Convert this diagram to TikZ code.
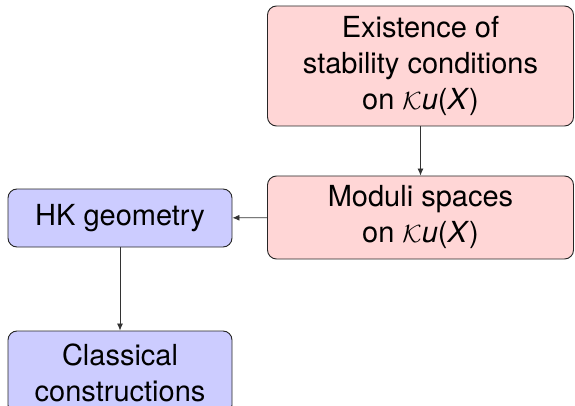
\documentclass[tikz,border=0pt]{standalone}
\usepackage{fontspec}
\setmainfont{TeX Gyre Heros}
\usetikzlibrary{arrows.meta}
\newcommand\KuX{$\mathcal{K}$\textit{u}(\textit{X})}
\begin{document}
\begin{tikzpicture}[x=1pt,y=-1pt,
  box/.style={draw=black!85, line width=0.9pt, rounded corners=9pt, align=center, inner sep=0pt, font=\fontsize{29}{36}\selectfont},
  pinkbox/.style={box, fill=red!16},
  bluebox/.style={box, fill=blue!20},
  conn/.style={draw=black!80, line width=0.8pt, -{Latex[length=7pt,width=6pt]}}]
\useasboundingbox (0,0) rectangle (575,406);
\clip (0,0) rectangle (575,406);
\node[pinkbox, minimum width=306pt, minimum height=120pt] (exist) at (420.5,66) {Existence of\\stability conditions\\on \KuX};
\node[pinkbox, minimum width=306pt, minimum height=83pt] (moduli) at (420.5,217.5) {Moduli spaces\\on \KuX};
\node[bluebox, minimum width=224pt, minimum height=58pt] (hk) at (120,218) {HK geometry};
\node[bluebox, minimum width=224pt, minimum height=83pt] (classical) at (120,372.5) {Classical\\constructions};
\draw[conn] (exist) -- (moduli);
\draw[conn] (moduli) -- (hk);
\draw[conn] (hk) -- (classical);
\end{tikzpicture}
\end{document}
